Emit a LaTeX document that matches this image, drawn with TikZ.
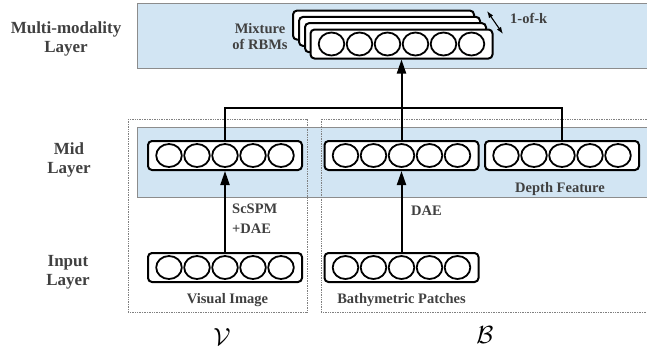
\documentclass[tikz,border=0pt]{standalone}
\usepackage{fontspec}
\setmainfont{Liberation Serif}
\usetikzlibrary{arrows.meta,calc}
\definecolor{bandblue}{HTML}{D2E5F3}
\definecolor{bandedge}{HTML}{8C8C8C}
\definecolor{labelgray}{HTML}{404040}
\tikzset{
  band/.style={fill=bandblue, draw=bandedge, line width=0.8bp},
  groupbox/.style={draw=gray, densely dotted, line width=0.7bp},
  rbmbox/.style={draw=black, fill=white, line width=2bp, rounded corners=4bp,
    minimum height=29bp, inner sep=0},
  unit/.style={draw=black, line width=1.8bp},
  link/.style={draw=black, line width=2bp},
  uparrow/.style={link, -{Triangle[length=14bp,width=9bp]}},
  layertext/.style={font=\fontsize{17bp}{19bp}\selectfont\bfseries, text=labelgray,
    align=center, inner sep=0},
  tagtext/.style={font=\fontsize{14.5bp}{16bp}\selectfont\bfseries, text=labelgray,
    inner sep=0},
  modality/.style={font=\fontsize{33bp}{36bp}\selectfont, inner sep=0}
}
% one RBM layer: name, x, y, number of units
\newcommand{\rbmlayer}[4]{%
  \node[rbmbox, minimum width=28bp*#4+14bp] (#1) at (#2,#3) {};
  \foreach \k in {1,...,#4}{
    \draw[unit] ($(#1.center)+({(\k-(#4+1)/2)*28},0)$)
      ellipse [x radius=12.8bp, y radius=11.5bp];
  }%
}
\begin{document}
\begin{tikzpicture}[x=1bp,y=-1bp]
\useasboundingbox (0,0) rectangle (647,356);

% layer bands
\path[band] (137,3) rectangle (649,68);
\path[band] (137,127) rectangle (649,197);

% modality groups
\draw[groupbox] (128,119) rectangle (307,312);
\draw[groupbox] (321,119) rectangle (649,312);

% layer names (base = baseline of the last line)
\node[layertext, anchor=base] (lblmm) at (66,52) {Multi-modality\\Layer};
\node[layertext, anchor=base] (lblmid) at (69,173) {Mid\\Layer};
\node[layertext, anchor=base] (lblin) at (68,285) {Input\\Layer};

% input and mid layers
\rbmlayer{visin}{225}{267.5}{5}
\rbmlayer{bathin}{401.5}{267.5}{5}
\rbmlayer{vismid}{225}{155.5}{5}
\rbmlayer{bathmid}{401.5}{155.5}{5}
\rbmlayer{depthmid}{562}{155.5}{5}

% stack of RBMs
\foreach \s in {3,2,1}{
  \node[rbmbox, minimum width=181bp] (back\s) at (401.5-6*\s, 44-6.3*\s) {};
}
\rbmlayer{mix}{401.5}{44}{6}

% connectors
\coordinate (hub) at (401.5,108);
\draw[link] (vismid.north) |- (hub) -| (depthmid.north);
\draw[link] (bathmid.north) -- (hub);
\draw[uparrow] (hub) -- (mix.south);
\draw[uparrow] (visin.north) -- (vismid.south);
\draw[uparrow] (bathin.north) -- (bathmid.south);

% 1-of-k selector
\coordinate (kA) at (487,11);
\coordinate (kB) at (503,34);
\draw[{Latex[length=7bp,width=5bp]}-{Latex[length=7bp,width=5bp]}, line width=1.1bp] (kA) -- (kB);
\node[tagtext, anchor=base west] (ktag) at (510,23) {1-of-k};

% labels
\node[tagtext, align=center, anchor=base] (mixtag) at (260,49) {Mixture\\of RBMs};
\node[tagtext, align=left, anchor=base west, font=\fontsize{14.5bp}{20bp}\selectfont\bfseries]
  (scspm) at (232,233) {ScSPM\\+DAE};
\node[tagtext, anchor=base west] (dae) at (411,215) {DAE};
\node[tagtext, anchor=base] (depth) at (560,192) {Depth Feature};
\node[tagtext, anchor=base] (visual) at (227.5,303) {Visual Image};
\node[tagtext, anchor=base] (bathy) at (401.5,303) {Bathymetric Patches};
\node[modality, anchor=base] (modv) at (222,345) {$\mathcal{V}$};
\node[modality, anchor=base] (modb) at (485,343) {$\mathcal{B}$};
\end{tikzpicture}
\end{document}
